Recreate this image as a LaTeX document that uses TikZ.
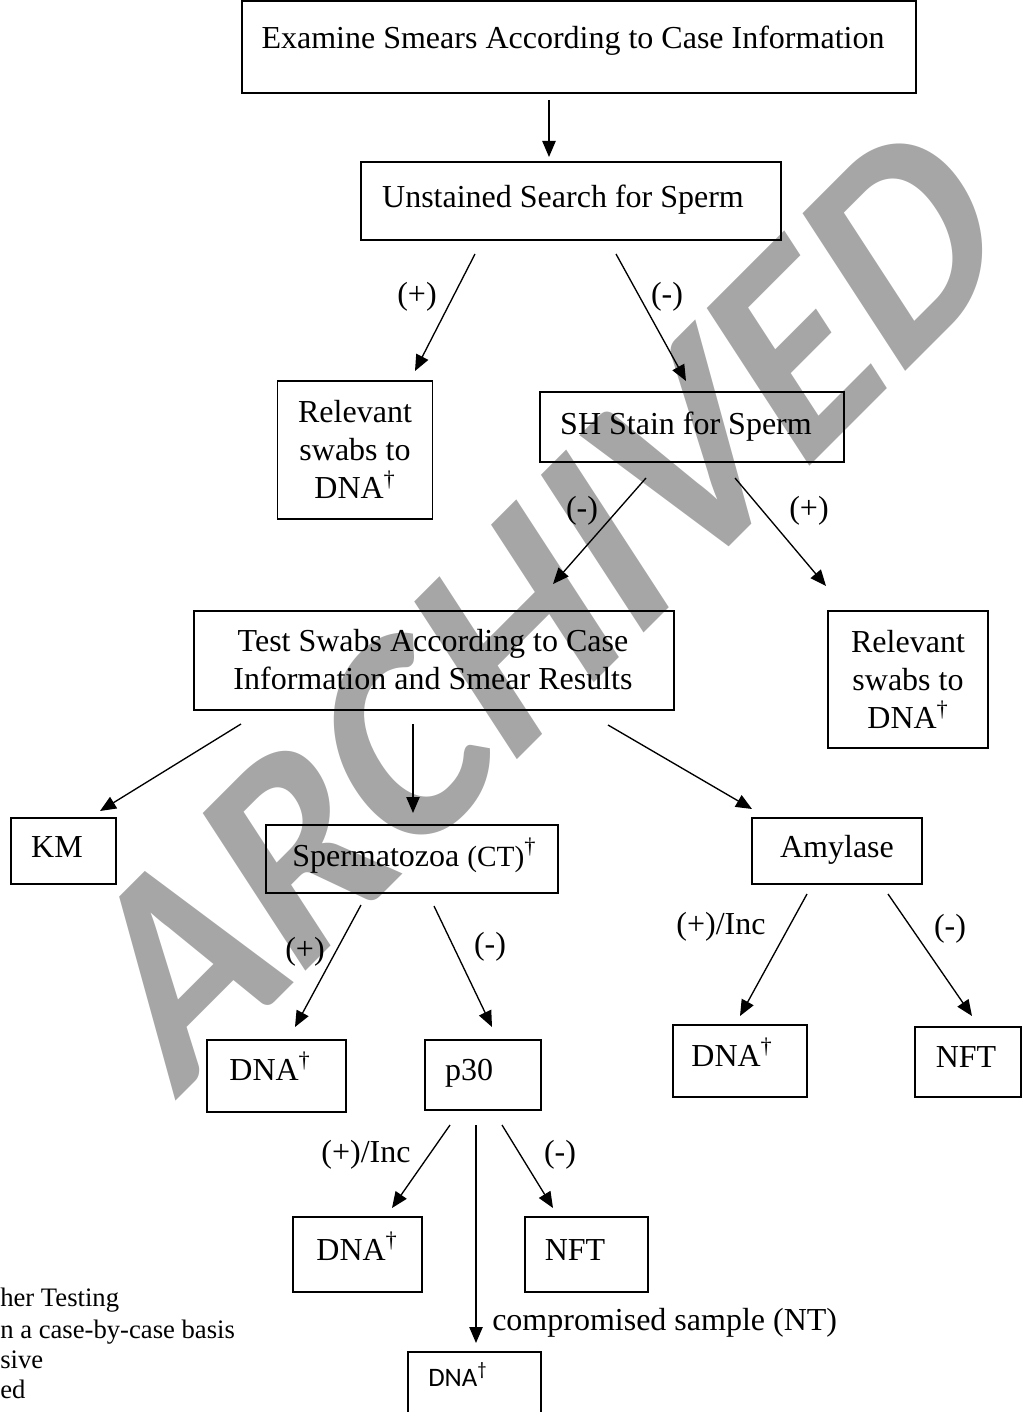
\documentclass[tikz,border=0pt]{standalone}
\usepackage{fontspec}
\setmainfont{Liberation Serif}
\newfontfamily\wmfont{Carlito}
\newfontfamily\dnasans{Carlito}
\usetikzlibrary{arrows.meta}
\definecolor{wmgray}{HTML}{A6A6A6}
\begin{document}
\begin{tikzpicture}[x=0.75pt,y=-0.75pt,
  box/.style n args={2}{draw, line width=1.3pt, inner sep=0pt, minimum width=#1*0.75pt, minimum height=#2*0.75pt},
  conn/.style={line width=1pt, -{Triangle[length=12pt,width=10pt]}},
  txt/.style={font=\fontsize{24}{28.5}\selectfont, inner sep=0pt, align=center},
  lbl/.style={font=\fontsize{24}{28.5}\selectfont, inner sep=0pt},
  leg/.style={font=\fontsize{20}{23}\selectfont, inner sep=0pt, anchor=base west}]
\useasboundingbox (0,0) rectangle (1021,1412);

% watermark
\begin{scope}[shift={(175,1102)}, yscale=1.24]
\node[rotate=38.9, transform shape, anchor=base west, text=wmgray, font=\wmfont\bfseries\fontsize{189}{189}\selectfont, inner sep=0pt] (wm) at (0,0) {ARCHIVED};
\end{scope}

% boxes
\node[box={674}{92}] (A) at (579,47) {};
\node[box={420}{78}] (B) at (571,201) {};
\node[box={155}{138}] (C) at (355,450) {};
\node[box={304}{70}] (D) at (692,427) {};
\node[box={480}{99}] (E) at (434,660.5) {};
\node[box={160}{137}] (F) at (908,679.5) {};
\node[box={105}{66}] (G) at (63.5,851) {};
\node[box={292}{68}] (H) at (412,859) {};
\node[box={170}{66}] (I) at (837,851) {};
\node[box={139}{72}] (J) at (276.5,1076) {};
\node[box={116}{70}] (K) at (483,1075) {};
\node[box={134}{72}] (L) at (740,1061) {};
\node[box={106}{70}] (M) at (968,1062) {};
\node[box={129}{75}] (N) at (357.5,1254.5) {};
\node[box={123}{75}] (O) at (586.5,1254.5) {};
\node[box={133}{70}] (P) at (474.5,1387) {};

% box texts
\node[txt, anchor=base] (tA) at (573,49) {Examine Smears According to Case Information};
\node[txt, anchor=base] (tB) at (563,208) {Unstained Search for Sperm};
\node[txt] (tC) at (355,449) {Relevant\\swabs to\\DNA\textsuperscript{†}};
\node[txt, anchor=base] (tD) at (686,434) {SH Stain for Sperm};
\node[txt, text depth=0pt] (tE) at (433,659) {Test Swabs According to Case\\Information and Smear Results};
\node[txt] (tF) at (908,679) {Relevant\\swabs to\\DNA\textsuperscript{†}};
\node[txt, anchor=base] (tG) at (57,857) {KM};
\node[txt, anchor=base west] (tH) at (292,866) {Spermatozoa {\fontsize{22}{24}\selectfont(CT)}\textsuperscript{†}};
\node[txt, anchor=base] (tI) at (837,857) {Amylase};
\node[txt, anchor=base] (tJ) at (270,1080) {DNA\textsuperscript{†}};
\node[txt, anchor=base] (tK) at (469,1080) {p30};
\node[txt, anchor=base] (tL) at (732,1066) {DNA\textsuperscript{†}};
\node[txt, anchor=base] (tM) at (966,1067) {NFT};
\node[txt, anchor=base] (tN) at (357,1260) {DNA\textsuperscript{†}};
\node[txt, anchor=base] (tO) at (575,1260) {NFT};
\node[inner sep=0pt, anchor=base west, font=\dnasans\fontsize{20}{24}\selectfont] (tP) at (428,1386) {DNA\textsuperscript{†}};

% connector end points
\coordinate (a1) at (549,100);   \coordinate (a2) at (549,157);
\coordinate (b1) at (475,254);   \coordinate (b2) at (415,371);
\coordinate (b3) at (616,254);   \coordinate (b4) at (686,381);
\coordinate (d1) at (646,478);   \coordinate (d2) at (553,584);
\coordinate (d3) at (735,478);   \coordinate (d4) at (826,586);
\coordinate (e1) at (241,724);   \coordinate (e2) at (100,811);
\coordinate (e3) at (413,724);   \coordinate (e4) at (413,813);
\coordinate (e5) at (608,725);   \coordinate (e6) at (752,809);
\coordinate (h1) at (361,905);   \coordinate (h2) at (295,1027);
\coordinate (h3) at (434,906);   \coordinate (h4) at (492,1027);
\coordinate (i1) at (807,894);   \coordinate (i2) at (740,1016);
\coordinate (i3) at (888,894);   \coordinate (i4) at (972,1016);
\coordinate (k1) at (450,1125);  \coordinate (k2) at (392,1208);
\coordinate (k3) at (476,1125);  \coordinate (k4) at (476,1343);
\coordinate (k5) at (502,1125);  \coordinate (k6) at (553,1208);

\draw[conn] (a1) -- (a2);
\draw[conn] (b1) -- (b2);
\draw[conn] (b3) -- (b4);
\draw[conn] (d1) -- (d2);
\draw[conn] (d3) -- (d4);
\draw[conn] (e1) -- (e2);
\draw[conn] (e3) -- (e4);
\draw[conn] (e5) -- (e6);
\draw[conn] (h1) -- (h2);
\draw[conn] (h3) -- (h4);
\draw[conn] (i1) -- (i2);
\draw[conn] (i3) -- (i4);
\draw[conn] (k1) -- (k2);
\draw[conn] (k3) -- (k4);
\draw[conn] (k5) -- (k6);

% connector labels
\node[lbl] (l1) at (417,297) {(+)};
\node[lbl] (l2) at (667,297) {(-)};
\node[lbl] (l3) at (582,511) {(-)};
\node[lbl] (l4) at (809,511) {(+)};
\node[lbl] (l5) at (305,952) {(+)};
\node[lbl] (l6) at (490,947) {(-)};
\node[lbl] (l7) at (721,927) {(+)/Inc};
\node[lbl] (l8) at (950,929) {(-)};
\node[lbl] (l9) at (366,1155) {(+)/Inc};
\node[lbl] (l10) at (560,1155) {(-)};
\node[lbl, anchor=base west] (l11) at (492,1330) {compromised sample (NT)};

% legend (cut at the left edge)
\node[leg] (g1) at (0,1306) {her Testing};
\node[leg] (g2) at (0,1338) {n a case-by-case basis};
\node[leg] (g3) at (0,1368) {sive};
\node[leg] (g4) at (0,1398) {ed};
\end{tikzpicture}
\end{document}
